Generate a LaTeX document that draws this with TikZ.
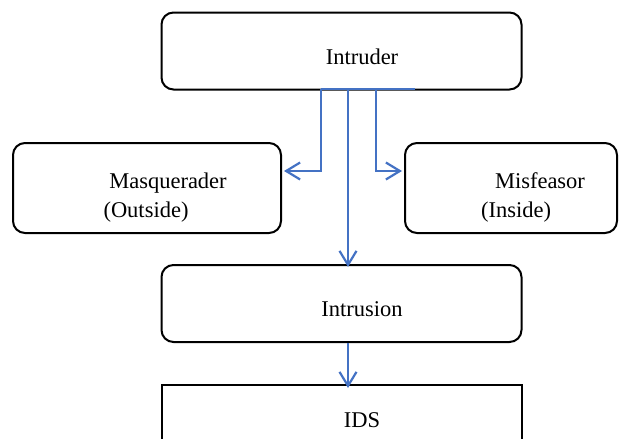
\documentclass[tikz,border=0pt]{standalone}
\usepackage{fontspec}
\setmainfont{Liberation Serif}
\usetikzlibrary{arrows.meta}
\definecolor{linkblue}{RGB}{68,114,196}
\begin{document}
\begin{tikzpicture}[x=1pt,y=-1pt,
  box/.style={draw=black,line width=2pt,rounded corners=12pt,minimum width=#1,inner sep=0pt},
  lbl/.style={inner sep=0pt,anchor=base,font=\fontsize{22.5}{27}\selectfont},
  link/.style={draw=linkblue,line width=2.2pt},
  tip/.style={-{Straight Barb[length=14pt,width=17pt,line width=2.2pt]}}]
\clip (0,0) rectangle (619,439);
\useasboundingbox (0,0) rectangle (619,439);
% boxes
\node[box=360pt,minimum height=77pt] (intruder) at (341.5,51) {};
\node[box=268pt,minimum height=90pt] (masq) at (147,188) {};
\node[box=212pt,minimum height=90pt] (misf) at (511,188) {};
\node[box=360pt,minimum height=77pt] (intrusion) at (341.5,303.5) {};
\node[draw=black,line width=2pt,minimum width=360pt,minimum height=80pt,inner sep=0pt] (ids) at (341.5,425) {};
% labels
\node[lbl] (tIntruder) at (362,64) {Intruder};
\node[lbl] (tMasq) at (168,188) {Masquerader};
\node[lbl] (tOut) at (146,217) {(Outside)};
\node[lbl] (tMisf) at (540,188) {Misfeasor};
\node[lbl] (tIn) at (516,217) {(Inside)};
\node[lbl] (tIntrusion) at (362,316) {Intrusion};
\node[lbl] (tIDS) at (362,427) {IDS};
% connector coordinates
\coordinate (bl) at (321,89);
\coordinate (bc) at (348,89);
\coordinate (br) at (376,89);
\coordinate (be) at (415,89);
\coordinate (ml) at (321,171);
\coordinate (mr) at (376,171);
\coordinate (masqE) at (masq.east |- ml);
\coordinate (misfW) at (misf.west |- mr);
\coordinate (intrTop) at (bc |- intrusion.north);
\coordinate (intrBot) at (bc |- intrusion.south);
\coordinate (idsTop) at (bc |- ids.north);
% connectors
\draw[link] (bl) -- (be);
\draw[link,tip] (bl) -- (ml) -- ([xshift=2pt]masqE);
\draw[link,tip] (br) -- (mr) -- ([xshift=-2pt]misfW);
\draw[link,tip] (bc) -- ([yshift=-3pt]intrTop);
\draw[link,tip] (intrBot) -- ([yshift=-4pt]idsTop);
\end{tikzpicture}
\end{document}
